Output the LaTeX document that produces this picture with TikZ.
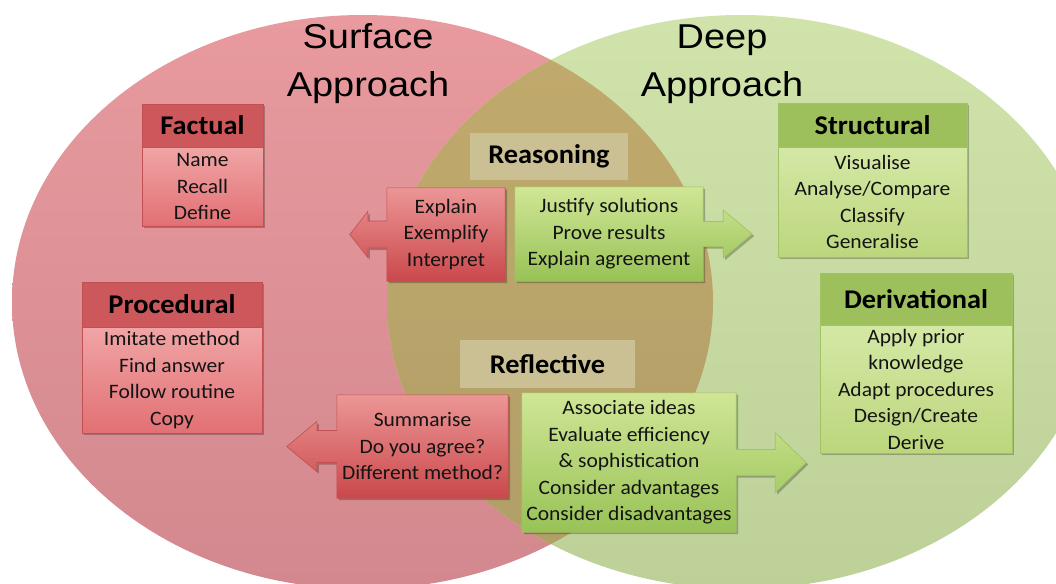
\documentclass[tikz,border=0pt]{standalone}
\usepackage{fontspec}
\setmainfont{Carlito}[FakeStretch=1.05]
\newfontfamily\titlefont{Liberation Sans}[FakeStretch=1.1]
\usetikzlibrary{calc,shadows}
\pgfdeclarelayer{circ}
\pgfdeclarelayer{boxes}
\pgfsetlayers{circ,boxes,main}
\definecolor{redTop}{RGB}{232,154,158}
\definecolor{redBot}{RGB}{210,136,142}
\definecolor{grnTop}{RGB}{208,227,170}
\definecolor{grnBot}{RGB}{188,208,152}
\definecolor{olvTop}{RGB}{194,170,108}
\definecolor{olvBot}{RGB}{176,158,104}
\definecolor{hdrRed}{RGB}{205,88,92}
\definecolor{bodyRedTop}{RGB}{240,165,165}
\definecolor{bodyRedBot}{RGB}{226,112,116}
\definecolor{bordRed}{RGB}{195,80,80}
\definecolor{hdrGrn}{RGB}{158,192,92}
\definecolor{bodyGrnTop}{RGB}{212,232,165}
\definecolor{bodyGrnBot}{RGB}{188,214,125}
\definecolor{bordGrn}{RGB}{160,195,100}
\definecolor{arRedTop}{RGB}{236,150,150}
\definecolor{arRedBot}{RGB}{202,72,75}
\definecolor{arGrnTop}{RGB}{208,230,150}
\definecolor{arGrnBot}{RGB}{152,194,86}
\definecolor{lblFill}{RGB}{202,192,148}
\definecolor{txtCol}{RGB}{20,20,20}
\tikzset{
  shad/.style={drop shadow={shadow xshift=2pt, shadow yshift=-2pt, opacity=0.25, fill=black}},
  title/.style={font=\titlefont\fontsize{34.5}{48}\selectfont, align=center, inner sep=0pt, text=black},
  txt/.style={font=\fontsize{20.5}{26.5}\selectfont, align=center, inner sep=0pt, text=txtCol},
  hdr/.style={font=\fontsize{27}{30}\selectfont\bfseries, inner sep=0pt, text=black},
  hdrR/.style={hdr, fill=hdrRed, draw=bordRed, line width=0.6pt, shad},
  hdrG/.style={hdr, fill=hdrGrn, draw=bordGrn, line width=0.6pt, shad},
  bodyR/.style={txt, top color=bodyRedTop, bottom color=bodyRedBot, draw=bordRed, line width=0.6pt, shad},
  bodyG/.style={txt, top color=bodyGrnTop, bottom color=bodyGrnBot, draw=bordGrn, line width=0.6pt, shad},
  lbl/.style={hdr, fill=lblFill},
  abox/.style={txt},
  arR/.style={top color=arRedTop, bottom color=arRedBot, draw=bordRed, line width=0.6pt, shad},
  arG/.style={top color=arGrnTop, bottom color=arGrnBot, draw=bordGrn, line width=0.6pt, shad},
}
% left-pointing arrow box: node, head-base offset, tip offset, head half, shaft half, style
\newcommand\myLarr[6]{\path[#6] (#1.north east) -- (#1.north west) -- ($(#1.west)+(0,-#5)$) -- ($(#1.west)+(-#2,-#5)$) -- ($(#1.west)+(-#2,-#4)$) -- ($(#1.west)+(-#3,0)$) -- ($(#1.west)+(-#2,#4)$) -- ($(#1.west)+(-#2,#5)$) -- ($(#1.west)+(0,#5)$) -- (#1.south west) -- (#1.south east) -- cycle;}
\newcommand\myRarr[6]{\path[#6] (#1.north west) -- (#1.north east) -- ($(#1.east)+(0,-#5)$) -- ($(#1.east)+(#2,-#5)$) -- ($(#1.east)+(#2,-#4)$) -- ($(#1.east)+(#3,0)$) -- ($(#1.east)+(#2,#4)$) -- ($(#1.east)+(#2,#5)$) -- ($(#1.east)+(0,#5)$) -- (#1.south east) -- (#1.south west) -- cycle;}
\begin{document}
\begin{tikzpicture}[x=1pt,y=-1pt]
\clip (0,0) rectangle (1056,583);
\begin{pgfonlayer}{circ}
\fill[white] (0,0) rectangle (1056,583);
\path[top color=redTop, bottom color=redBot] (362.5,302) ellipse [x radius=350.5, y radius=287];
\path[top color=grnTop, bottom color=grnBot] (741,302) ellipse [x radius=354, y radius=287];
\begin{scope}
\clip (362.5,302) ellipse [x radius=350.5, y radius=287];
\path[top color=olvTop, bottom color=olvBot] (741,302) ellipse [x radius=354, y radius=287];
\end{scope}
\end{pgfonlayer}

% titles
\node[title] (surf) at (368,64) {Surface\\Approach};
\node[title] (deep) at (722,64) {Deep\\Approach};

% Factual
\node[hdrR, minimum width=121pt, minimum height=43pt] (facth) at (202.5,125.5) {Factual};
\node[bodyR, minimum width=121pt, minimum height=79pt] (factb) at (202.5,186.5) {Name\\Recall\\Define};

% Procedural
\node[hdrR, minimum width=180pt, minimum height=45pt] (proch) at (172,304.5) {Procedural};
\node[bodyR, minimum width=180pt, minimum height=106pt] (procb) at (172,380) {Imitate method\\Find answer\\Follow routine\\Copy};

% Structural
\node[hdrG, minimum width=189pt, minimum height=44pt] (struh) at (872.5,125) {Structural};
\node[bodyG, minimum width=189pt, minimum height=110pt] (strub) at (872.5,202) {Visualise\\Analyse/Compare\\Classify\\Generalise};

% Derivational
\node[hdrG, minimum width=192pt, minimum height=52pt] (derih) at (916,299) {Derivational};
\node[bodyG, minimum width=192pt, minimum height=128pt] (derib) at (916,389) {Apply prior\\knowledge\\Adapt procedures\\Design/Create\\Derive};

% Reasoning
\node[lbl, minimum width=158pt, minimum height=47pt] (reas) at (549,156.5) {Reasoning};
\node[abox, minimum width=118pt, minimum height=93pt] (reasR) at (446,234.5) {Explain\\Exemplify\\Interpret};
\node[abox, minimum width=188pt, minimum height=94pt] (reasG) at (609,234) {Justify solutions\\Prove results\\Explain agreement};

% Reflective
\node[lbl, minimum width=175pt, minimum height=48pt] (refl) at (547.5,364) {Reflective};
\node[abox, minimum width=171pt, minimum height=103pt] (reflR) at (422.5,446.5) {Summarise\\Do you agree?\\Different method?};
\node[abox, minimum width=214pt, minimum height=139pt] (reflG) at (629,462.5) {Associate ideas\\Evaluate efficiency\\\& sophistication\\Consider advantages\\Consider disadvantages};

\begin{pgfonlayer}{boxes}
\myLarr{reasR}{19}{37}{23}{13.5}{arR}
\myRarr{reasG}{20}{49}{24}{12.5}{arG}
\myLarr{reflR}{20}{50}{25}{16}{arR}
\myRarr{reflG}{39}{70}{30}{13}{arG}
\end{pgfonlayer}
\end{tikzpicture}
\end{document}
